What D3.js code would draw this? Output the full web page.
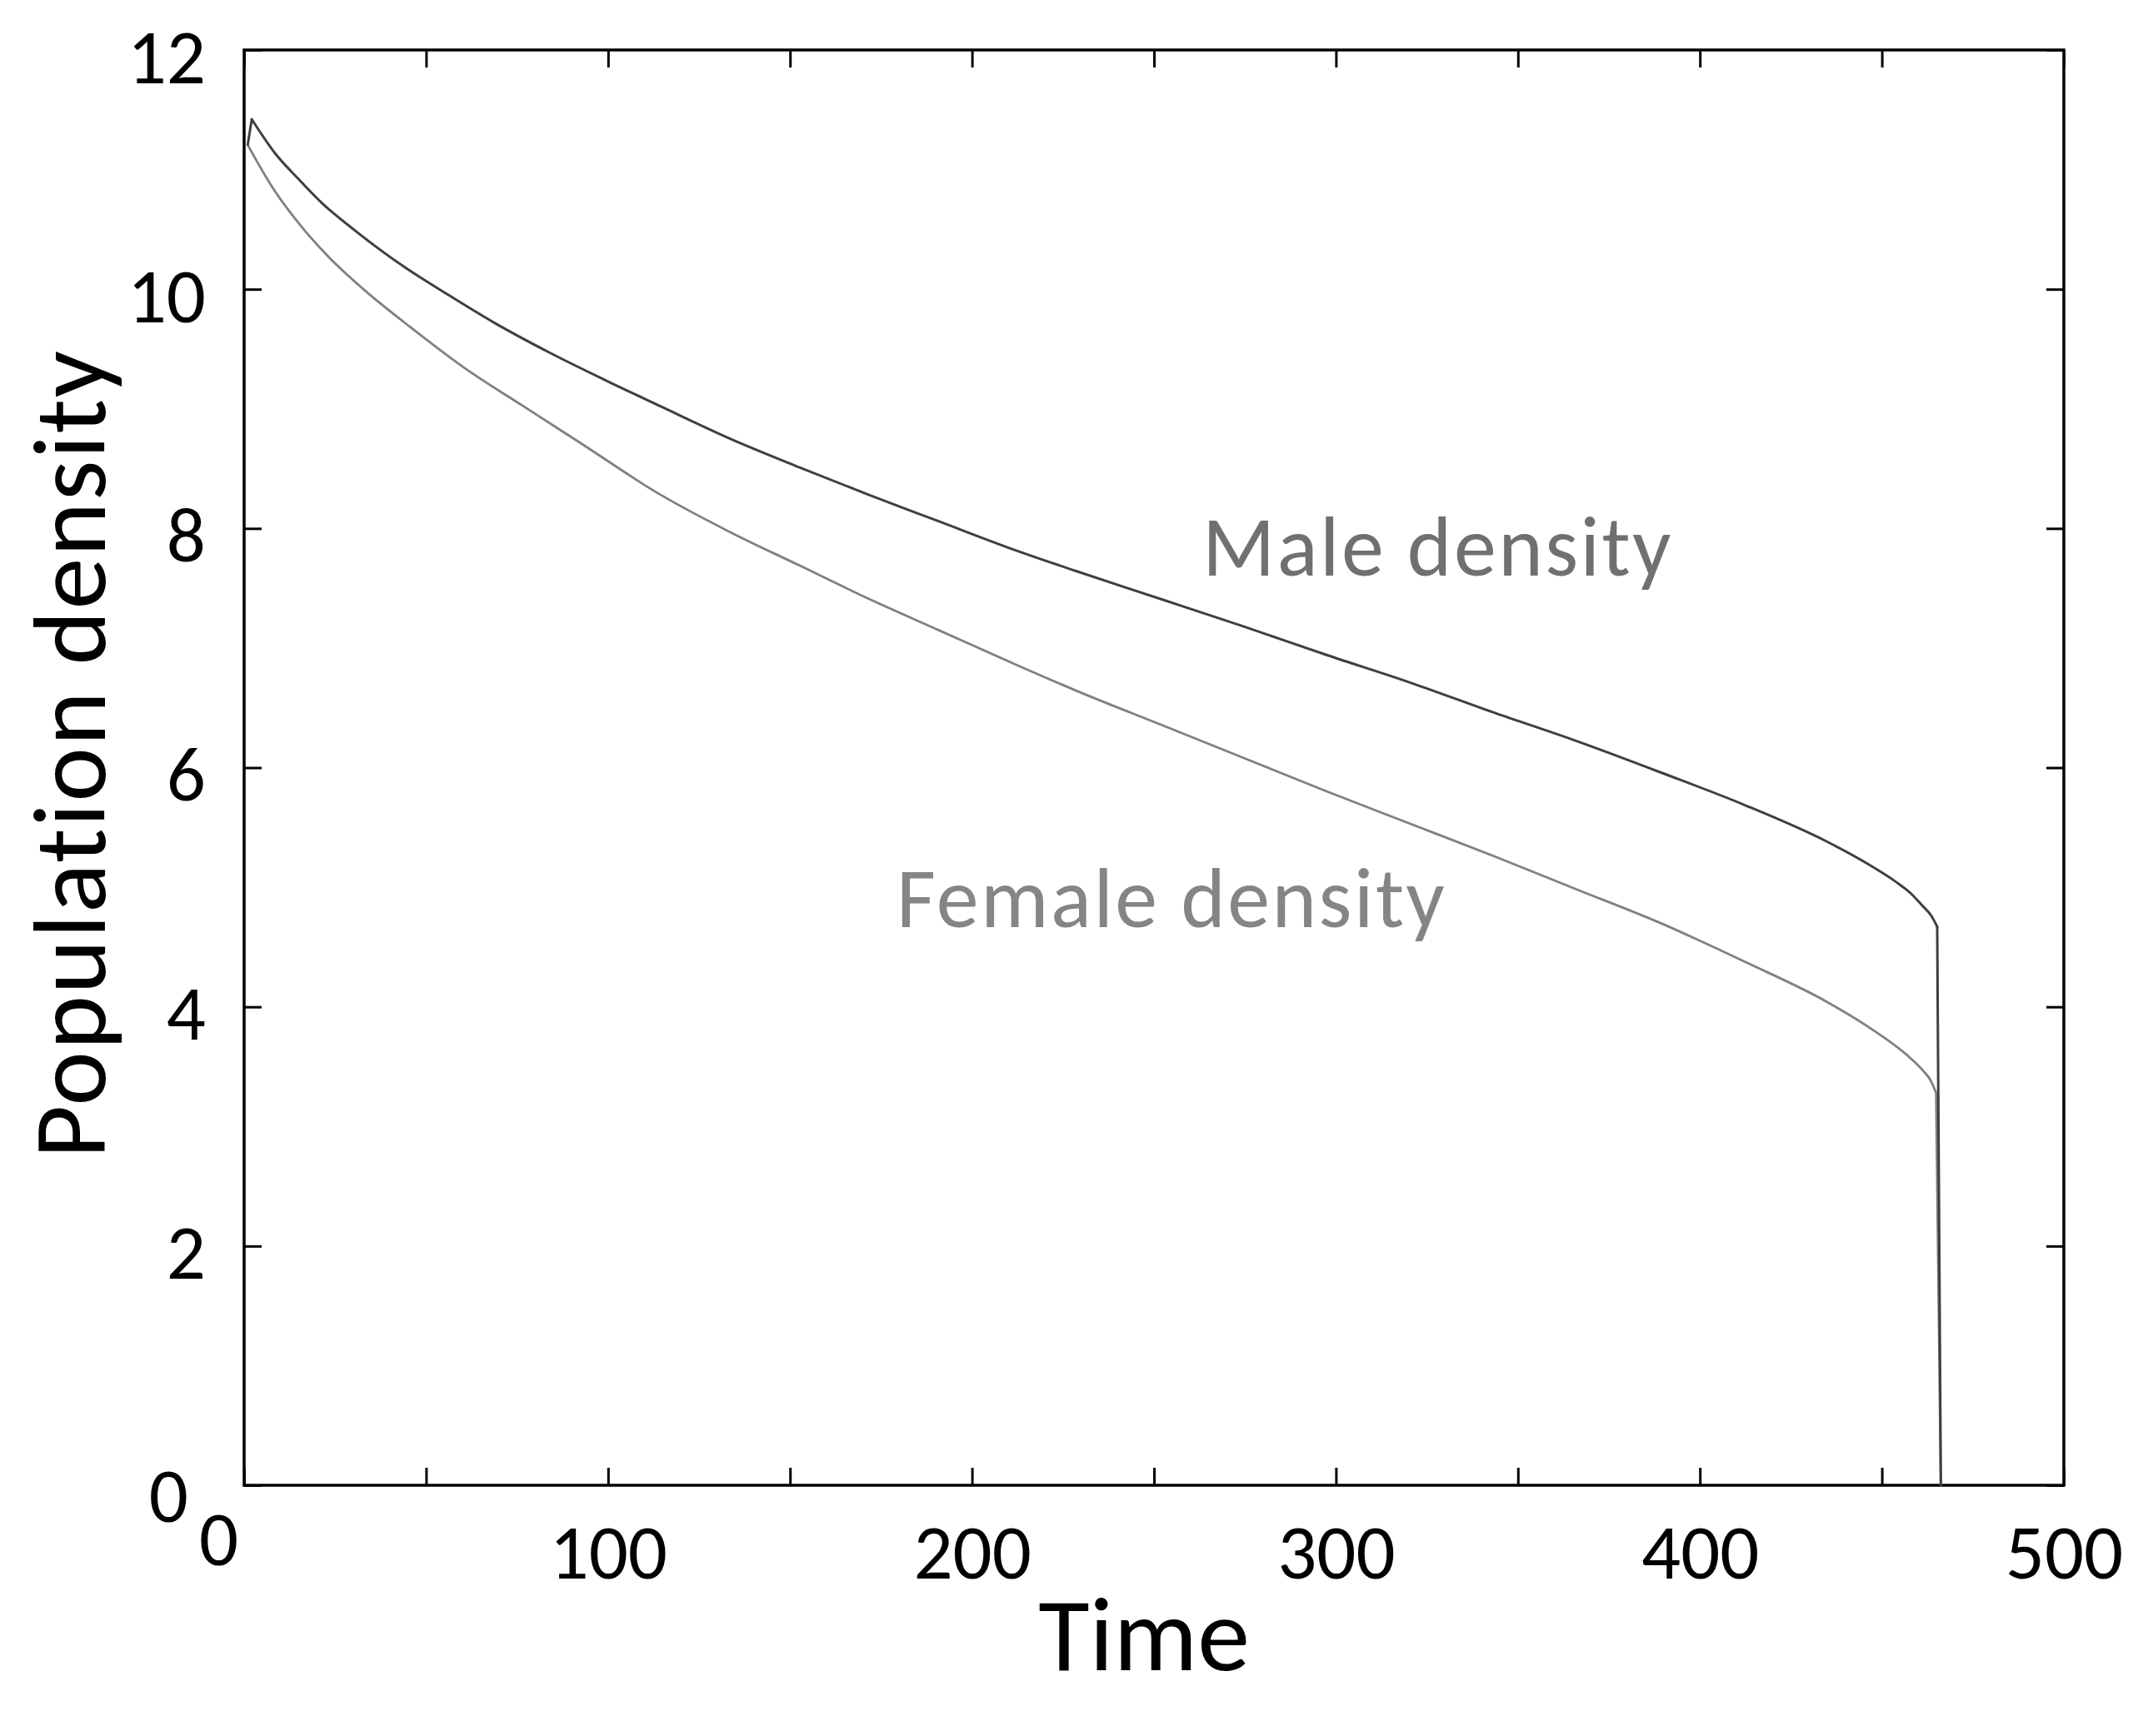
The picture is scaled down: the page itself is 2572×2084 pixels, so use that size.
<!DOCTYPE html>
<html>
<head>
<meta charset="utf-8">
<script src="https://cdn.jsdelivr.net/npm/d3@7"></script>
<style>
  html, body { margin: 0; padding: 0; background: #ffffff; }
  svg { display: block; }
</style>
</head>
<body>
<svg id="chart" width="2572" height="2084"></svg>
<script>
// ---- data ----
const maleTime = [1, 2.1, 8.4, 15.3, 21.4, 30.5, 44.3, 55.7, 68.7, 83.9, 99.2, 114.5, 133.5, 152.6, 171.7, 190.8, 209.9, 228.9, 251.8, 274.7, 297.6, 320.5, 343.4, 366.3, 389.2, 412.1, 435.0, 446.4, 454.1, 457.9, 461.0, 463.6, 465.2, 466.2];
const maleDensity = [11.21, 11.42, 11.14, 10.91, 10.72, 10.49, 10.18, 9.96, 9.72, 9.47, 9.24, 9.02, 8.75, 8.51, 8.28, 8.06, 7.84, 7.64, 7.41, 7.18, 6.94, 6.71, 6.46, 6.22, 5.96, 5.69, 5.38, 5.19, 5.04, 4.95, 4.85, 4.76, 4.67, 0];

const femaleTime = [1.1, 7.6, 15.3, 22.9, 34.3, 45.8, 61.1, 76.3, 91.6, 114.5, 133.5, 152.6, 171.7, 190.8, 212.9, 228.9, 251.8, 274.7, 297.6, 320.5, 343.4, 366.3, 389.2, 412.1, 435.0, 446.4, 457.9, 461.5, 463.3, 464.9, 466.2];
const femaleDensity = [11.20, 10.86, 10.54, 10.28, 9.96, 9.68, 9.33, 9.03, 8.73, 8.28, 7.97, 7.69, 7.41, 7.15, 6.85, 6.64, 6.36, 6.08, 5.80, 5.53, 5.26, 4.98, 4.70, 4.38, 4.04, 3.83, 3.57, 3.46, 3.39, 3.28, 0];

const xTicks = [0, 50, 100, 150, 200, 250, 300, 350, 400, 450, 500];
const xTickLabels = [0, 100, 200, 300, 400, 500];
const yTicks = [0, 2, 4, 6, 8, 10, 12];

const xTitle = "Time";
const yTitle = "Population density";
const maleLabel = "Male density";
const femaleLabel = "Female density";

// ---- layout ----
const FONT = "Carlito, Lato, 'Open Sans', sans-serif";
const plot = { left: 293, right: 2477, top: 60, bottom: 1783 };

const svg = d3.select("#chart");

const x = d3.scaleLinear().domain([0, 500]).range([plot.left, plot.right]);
const y = d3.scaleLinear().domain([0, 12]).range([plot.bottom, plot.top]);

const tickLen = 21;
const fmt = d => xTickLabels.includes(d) ? String(d) : "";

function styleAxis(g, fontSize) {
  g.select(".domain").remove();
  g.selectAll(".tick line").attr("stroke", "#000").attr("stroke-width", 3);
  g.selectAll(".tick text")
    .attr("font-family", FONT)
    .attr("font-size", fontSize)
    .attr("fill", "#000");
}

// bottom axis
const gx = svg.append("g")
  .attr("transform", `translate(0,${plot.bottom})`)
  .call(d3.axisBottom(x).tickValues(xTicks).tickFormat(fmt).tickSizeInner(-tickLen).tickSizeOuter(0).tickPadding(46));
styleAxis(gx, 93);
gx.selectAll(".tick text").filter(d => d === 0)
  .attr("dx", -31).attr("y", 30);

// top axis (ticks only)
const gxt = svg.append("g")
  .attr("transform", `translate(0,${plot.top})`)
  .call(d3.axisTop(x).tickValues(xTicks).tickFormat("").tickSizeInner(-tickLen).tickSizeOuter(0));
styleAxis(gxt, 93);

// left axis
const gy = svg.append("g")
  .attr("transform", `translate(${plot.left},0)`)
  .call(d3.axisLeft(y).tickValues(yTicks).tickFormat(d => String(d)).tickSizeInner(-tickLen).tickSizeOuter(0).tickPadding(46));
styleAxis(gy, 93);
gy.selectAll(".tick text").attr("dy", "0.42em");
gy.selectAll(".tick text").filter(d => d === 0).attr("dx", -21).attr("dy", "0.47em");

// right axis (ticks only)
const gyr = svg.append("g")
  .attr("transform", `translate(${plot.right},0)`)
  .call(d3.axisRight(y).tickValues(yTicks).tickFormat("").tickSizeInner(-tickLen).tickSizeOuter(0));
styleAxis(gyr, 93);

// frame
svg.append("rect")
  .attr("x", plot.left).attr("y", plot.top)
  .attr("width", plot.right - plot.left).attr("height", plot.bottom - plot.top)
  .attr("fill", "none").attr("stroke", "#000").attr("stroke-width", 3.5);

// lines: smooth body, sharp start spike and sharp final drop
const smooth = d3.line().x(d => x(d[0])).y(d => y(d[1])).curve(d3.curveMonotoneX);
const straight = d3.line().x(d => x(d[0])).y(d => y(d[1])).curve(d3.curveLinear);

function drawSeries(times, vals, color, width, headLinear) {
  const data = times.map((t, i) => [t, vals[i]]);
  const n = data.length;
  const start = headLinear ? 1 : 0;
  const g = svg.append("g")
    .attr("fill", "none").attr("stroke", color)
    .attr("stroke-width", width).attr("stroke-linejoin", "round").attr("stroke-linecap", "round");
  if (headLinear) g.append("path").attr("d", straight(data.slice(0, 2)));
  g.append("path").attr("d", smooth(data.slice(start, n - 1)));
  g.append("path").attr("d", straight(data.slice(n - 2)));
}

drawSeries(femaleTime, femaleDensity, "#808080", 2.8, false);
drawSeries(maleTime, maleDensity, "#3f3f3f", 3, true);

// series labels
svg.append("text")
  .attr("x", 1443).attr("y", 691)
  .attr("font-family", FONT).attr("font-size", 102)
  .attr("letter-spacing", 2.5)
  .attr("fill", "#707070")
  .text(maleLabel);
svg.append("text")
  .attr("x", 1076).attr("y", 1113)
  .attr("font-family", FONT).attr("font-size", 102)
  .attr("letter-spacing", 2.5)
  .attr("fill", "#858585")
  .text(femaleLabel);

// axis titles
svg.append("text")
  .attr("x", 1373).attr("y", 2005)
  .attr("text-anchor", "middle")
  .attr("font-family", FONT).attr("font-size", 126)
  .attr("fill", "#000")
  .text(xTitle);

svg.append("text")
  .attr("transform", "translate(126,905) rotate(-90)")
  .attr("text-anchor", "middle")
  .attr("font-family", FONT).attr("font-size", 124)
  .attr("letter-spacing", 1.8)
  .attr("fill", "#000")
  .text(yTitle);
</script>
</body>
</html>
